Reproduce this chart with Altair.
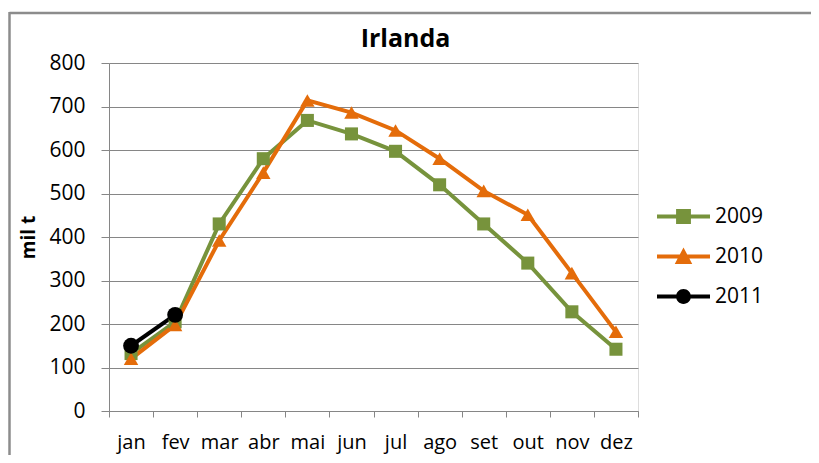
import altair as alt
import pandas as pd

months = ["jan", "fev", "mar", "abr", "mai", "jun", "jul", "ago", "set", "out", "nov", "dez"]
years = ["2009", "2010", "2011"]
s2009 = [132, 205, 430, 580, 668, 637, 597, 520, 430, 340, 228, 142]
s2010 = [120, 198, 392, 548, 714, 686, 645, 580, 506, 451, 317, 182]
s2011 = [150, 221]
y_ticks = [0, 100, 200, 300, 400, 500, 600, 700, 800]

colors = ["#77933C", "#E46C0A", "#000000"]
shapes = ["square", "triangle-up", "circle"]
sizes = [170, 250, 200]

rows = []
for yr, vals in zip(years, [s2009, s2010, s2011]):
    for m, v in zip(months, vals):
        rows.append({"mes": m, "ano": yr, "valor": v})
df = pd.DataFrame(rows)

FONT = "Open Sans"
GRID = "#868686"

x_enc = alt.X("mes:O", sort=months,
              scale=alt.Scale(type="band", paddingInner=0, paddingOuter=0),
              axis=alt.Axis(title=None, labelAngle=0, tickBand="extent", tickSize=6,
                            tickColor=GRID, domainColor=GRID, labelPadding=15,
                            labelFont=FONT, labelFontSize=20, labelColor="black", grid=False))
y_enc = alt.Y("valor:Q", scale=alt.Scale(domain=[0, 800], nice=False),
              axis=alt.Axis(values=y_ticks, title="mil t", tickSize=8, tickColor=GRID,
                            domainColor=GRID, gridColor=GRID, grid=True, labelPadding=16,
                            labelFont=FONT, labelFontSize=21, labelColor="black",
                            titleFont=FONT, titleFontSize=19, titleFontWeight="bold",
                            titleColor="black", titleAngle=270, titleX=-81, titleY=174,
                            titleAlign="center", titleBaseline="middle"))

sym_line = "M-1,-0.075H1V0.075H-1Z"
legend_paths = [
    sym_line + "M-0.28,-0.28H0.28V0.28H-0.28Z",
    sym_line + "M0,-0.34L0.33,0.28H-0.33Z",
    sym_line + "M-0.28,0A0.28,0.28 0 1,1 0.28,0A0.28,0.28 0 1,1 -0.28,0Z",
]

legend = alt.Legend(
    title=None, orient="none", legendX=548, legendY=127,
    symbolSize=2809, symbolStrokeWidth=0, symbolOpacity=1,
    labelFont=FONT, labelFontSize=21, labelColor="black", labelOffset=5,
    labelBaseline="middle", rowPadding=3, padding=0,
)

base = alt.Chart(df)
lines = base.mark_line(strokeWidth=4).encode(
    x=x_enc, y=y_enc,
    stroke=alt.Stroke("ano:N", scale=alt.Scale(domain=years, range=colors), legend=None),
    detail="ano:N",
)
points = base.mark_point(filled=True, opacity=1).encode(
    x=x_enc, y=y_enc,
    color=alt.Color("ano:N", scale=alt.Scale(domain=years, range=colors), legend=None),
    shape=alt.Shape("ano:N", scale=alt.Scale(domain=years, range=shapes), legend=None),
    size=alt.Size("ano:O", scale=alt.Scale(domain=years, range=sizes), legend=None),
)
legend_layer = base.mark_point(filled=True, opacity=0).encode(
    x=x_enc, y=y_enc,
    color=alt.Color("ano:N", scale=alt.Scale(domain=years, range=colors), legend=legend),
    shape=alt.Shape("ano:N", scale=alt.Scale(domain=years, range=legend_paths), legend=legend),
)

one = alt.Data(values=[{}])
border_top = alt.Chart(one).mark_rule(color="#8c8c8c", strokeWidth=2.5).encode(
    x=alt.value(-99.5), x2=alt.value(720), y=alt.value(-50))
border_left = alt.Chart(one).mark_rule(color="#8c8c8c", strokeWidth=2.5).encode(
    x=alt.value(-99.5), y=alt.value(-51), y2=alt.value(420))

chart = alt.layer(border_top, border_left, lines, points, legend_layer).resolve_scale(
    color="independent", stroke="independent", shape="independent", size="independent"
).properties(
    width=529, height=348,
    autosize=alt.AutoSizeParams(type="none"),
    padding={"left": 101, "top": 55, "right": 173, "bottom": 44},
    title=alt.TitleParams("Irlanda", font=FONT, fontSize=25, fontWeight="bold",
                          color="black", anchor="middle", frame="group", dx=32,
                          offset=0, dy=61, baseline="alphabetic"),
).configure_view(stroke=None).configure(background="white")

chart.save("out.html", embed_options={"renderer": "svg", "actions": False})
